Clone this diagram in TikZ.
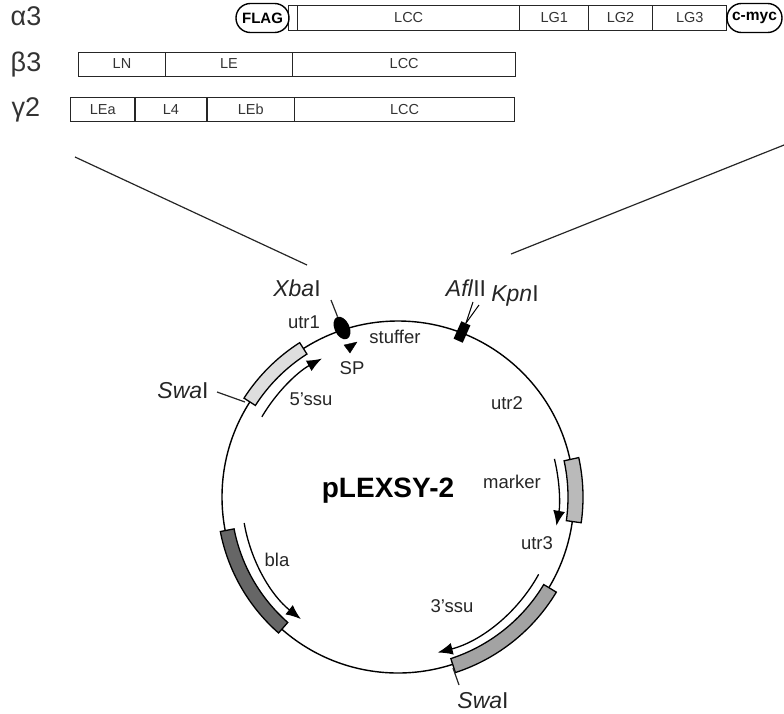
\documentclass[tikz,border=0pt]{standalone}
\usepackage{fontspec}
\setmainfont{Liberation Sans}
\usetikzlibrary{arrows.meta,shapes.geometric}
\newcommand{\plasband}[5]{\filldraw[bandline,fill=#5] (#3:#2) arc[start angle=#3,end angle=#4,radius=#2] -- (#4:#1) arc[start angle=#4,end angle=#3,radius=#1] -- cycle;}
\newcommand{\plasarrow}[3]{\draw[geneline] (#2:#1) arc[start angle=#2,end angle=#3,radius=#1];}
\tikzset{
 cell/.style={draw=black!85,line width=1pt,minimum height=24,inner sep=0,outer sep=0,font=\fontsize{14.5}{16}\selectfont,text=black!80,anchor=center},
 pill/.style={draw=black,line width=1.4pt,rounded corners=14.4pt,minimum height=29,inner sep=0},
 chain/.style={font=\fontsize{27}{30}\selectfont,text=black!80,inner sep=0},
 lbl/.style={font=\fontsize{18.5}{21}\selectfont,text=black!85,inner sep=0},
 site/.style={font=\fontsize{23}{26}\selectfont,text=black!85,inner sep=0},
 bandline/.style={draw=black,line width=1.3pt},
 geneline/.style={draw=black,line width=1.3pt,-{Latex[length=15pt,width=12pt]}},
 thin line/.style={draw=black!85,line width=1.2pt}
}
\begin{document}
\begin{tikzpicture}[x=1pt,y=-1pt]
\useasboundingbox (0,0) rectangle (784,713);
% chains
\node[chain] (a3) at (26,16) {α3};
\node[chain] (b3) at (26,65) {β3};
\node[chain] (g2) at (26,110) {γ2};
% alpha row
\node[cell,minimum height=25,minimum width=8.5] (aS) at (293.2,18) {};
\node[cell,minimum height=25,minimum width=222.5] (aL) at (408.7,18) {LCC};
\node[cell,minimum height=25,minimum width=68.5] (aG1) at (554.2,18) {LG1};
\node[cell,minimum height=25,minimum width=64] (aG2) at (620.5,18) {LG2};
\node[cell,minimum height=25,minimum width=74.5] (aG3) at (689.7,18) {LG3};
\node[pill,minimum width=53,font=\bfseries\fontsize{15}{17}\selectfont] (flag) at (262.5,18) {FLAG};
\node[pill,minimum width=55,font=\bfseries\fontsize{15.5}{17}\selectfont] (myc) at (754.5,18) {c-myc};
% beta row
\node[cell,minimum width=87] (bN) at (122,64) {LN};
\node[cell,minimum width=127] (bE) at (229,64) {LE};
\node[cell,minimum width=223.5] (bL) at (404.2,64) {LCC};
% gamma row
\node[cell,minimum width=64.5] (gA) at (102.7,109.7) {LEa};
\node[cell,minimum width=72] (g4) at (171,109.7) {L4};
\node[cell,minimum width=87.5] (gB) at (250.7,109.7) {LEb};
\node[cell,minimum width=220] (gL) at (404.5,109.7) {LCC};
% zoom lines
\coordinate (z1a) at (75,157); \coordinate (z1b) at (307,265);
\coordinate (z2a) at (511,254); \coordinate (z2b) at (784,145);
\draw[thin line] (z1a) -- (z1b);
\draw[thin line] (z2a) -- (z2b);
% plasmid ring
\node[circle,draw=black,line width=1.4pt,minimum size=352,inner sep=0] (ring) at (398,497) {};
\begin{scope}[shift={(398,497)},y=1pt]
\plasband{169.5}{183}{122.5}{147.3}{black!13}
\plasband{170}{185}{12.3}{-8}{black!27}
\plasband{170}{184.7}{-31}{-71.9}{black!36}
\plasband{167}{181}{191}{228.7}{black!60}
\plasarrow{158}{149.5}{118.8}
\plasarrow{156}{189.6}{231.5}
\plasarrow{160.5}{-28.8}{-75.7}
\plasarrow{161}{13.7}{-10.3}
\end{scope}
% sites
\node[ellipse,fill=black,minimum width=15,minimum height=24,inner sep=0,rotate=25] (xbadot) at (342,328) {};
\coordinate (xbaT) at (331,300);
\draw[thin line] (xbaT) -- (xbadot);
\node[rectangle,fill=black,minimum width=10,minimum height=19,inner sep=0,rotate=-24] (aflbox) at (462,332) {};
\coordinate (aflT) at (473,302); \coordinate (kpnT) at (479,305);
\draw[draw=black,line width=1pt] (aflbox.north) -- (aflT);
\draw[draw=black,line width=1pt] (aflbox.north) -- (kpnT);
\filldraw[fill=black,draw=black,line width=0.3pt] (344,345) -- (357,342) -- (350,353) -- cycle;
\coordinate (swaLa) at (217,392); \coordinate (swaLb) at (245,402);
\draw[thin line] (swaLa) -- (swaLb);
\coordinate (swaBa) at (453,668); \coordinate (swaBb) at (459,685);
\draw[thin line] (swaBa) -- (swaBb);
% labels
\node[site] (xbaL) at (297,288) {\textit{Xba}I};
\node[site] (aflL) at (466,288) {\textit{Afl}II};
\node[site] (kpnL) at (515,296) {\textit{Kpn}I};
\node[site] (swa1) at (183,391) {\textit{Swa}I};
\node[site] (swa2) at (483,701) {\textit{Swa}I};
\node[lbl] (utr1) at (304,322) {utr1};
\node[lbl] (stuf) at (395,337) {stuffer};
\node[lbl] (sp) at (352,368) {SP};
\node[lbl] (ssu5) at (311,399) {5’ssu};
\node[lbl] (utr2) at (507,403) {utr2};
\node[lbl] (mark) at (512,482) {marker};
\node[lbl] (utr3) at (537,543) {utr3};
\node[lbl] (ssu3) at (452,606) {3’ssu};
\node[lbl] (bla) at (277,560) {bla};
\node[font=\bfseries\fontsize{28}{30}\selectfont,inner sep=0] (name) at (388,491) {pLEXSY-2};
\end{tikzpicture}
\end{document}
